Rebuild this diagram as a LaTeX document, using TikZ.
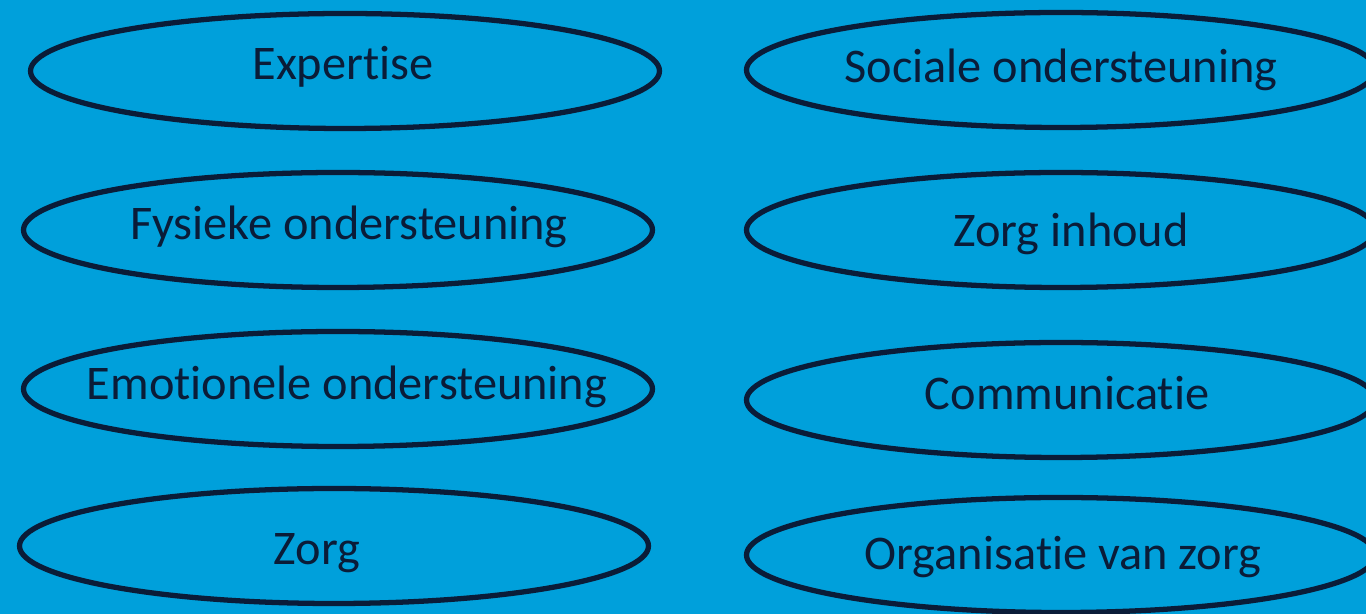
\documentclass[tikz,border=0pt]{standalone}
\usepackage{fontspec}
\setmainfont{Carlito}[Ligatures=NoCommon]
\usepackage{tikz}
\usetikzlibrary{shapes.geometric}

\definecolor{skyback}{HTML}{00A0DB}
\definecolor{navyline}{HTML}{0A1C38}

\begin{document}
\begin{tikzpicture}[
    oval/.style={
        draw=navyline,
        ellipse,
        line width=3pt,
        minimum width=12.58cm,
        minimum height=2.30cm,
        inner sep=0pt
    },
    lbl/.style={
        anchor=base,
        text=navyline,
        inner sep=0pt,
        font=\fontsize{27.5}{33}\selectfont
    }
]

\fill[skyback] (0,0) rectangle (27.32,-12.28);
\useasboundingbox (0,0) rectangle (27.32,-12.28);

% left column
\node[oval] (expertise) at (6.90,-1.42) {};
\node[oval] (fysiek) at (6.76,-4.60) {};
\node[oval] (emotie) at (6.76,-7.78) {};
\node[oval] (zorg) at (6.68,-10.92) {};

% right column
\node[oval] (sociaal) at (21.22,-1.40) {};
\node[oval] (inhoud) at (21.22,-4.60) {};
\node[oval] (communicatie) at (21.22,-8.00) {};
\node[oval] (organisatie) at (21.22,-11.10) {};

% labels
\node[lbl] (expertise-txt) at (6.86,-1.60) {Expertise};
\node[lbl] (fysiek-txt) at (6.98,-4.80) {Fysieke ondersteuning};
\node[lbl] (emotie-txt) at (6.94,-8.00) {Emotionele ondersteuning};
\node[lbl] (zorg-txt) at (6.34,-11.30) {Zorg};
\node[lbl] (sociaal-txt) at (21.22,-1.66) {Sociale ondersteuning};
\node[lbl] (inhoud-txt) at (21.42,-4.94) {Zorg inhoud};
\node[lbl] (communicatie-txt) at (21.34,-8.20) {Communicatie};
\node[lbl] (organisatie-txt) at (21.26,-11.40) {Organisatie van zorg};

\end{tikzpicture}
\end{document}
